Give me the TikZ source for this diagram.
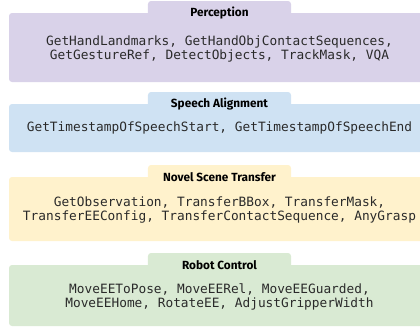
\documentclass[tikz,border=0pt]{standalone}
\usepackage{fontspec}
\setmainfont{Fira Sans}
\setmonofont{DejaVu Sans Mono}
\definecolor{percfill}{HTML}{D9D2E9}
\definecolor{speechfill}{HTML}{CFE2F3}
\definecolor{novelfill}{HTML}{FFF2CC}
\definecolor{robotfill}{HTML}{D9EAD3}
\definecolor{bodytext}{HTML}{2A2A2A}
\tikzset{
  panelbox/.style={draw=none, rounded corners=3bp, inner sep=0pt, outer sep=0pt},
  tabbox/.style={draw=none, rounded corners=3bp, inner sep=0pt, outer sep=0pt, minimum width=143bp, minimum height=18bp},
  titletext/.style={font=\fontsize{11.8bp}{13bp}\selectfont\bfseries, text=black, inner sep=0pt},
  bodytxt/.style={font=\fontsize{12.8bp}{14bp}\selectfont\ttfamily, text=bodytext, align=center, inner sep=0pt}
}
\begin{document}
\begin{tikzpicture}[x=1bp, y=-1bp]
\useasboundingbox (0,0) rectangle (420,327);
\clip (0,0) rectangle (420,327);
% Perception
\node[tabbox, fill=percfill, anchor=north] (perctab) at (219.5,1) {};
\node[panelbox, fill=percfill, anchor=north west, minimum width=422bp, minimum height=69bp] (percbox) at (9,13) {};
\node[titletext] (perctitle) at (219.5,13.5) {Perception};
\node[bodytxt] (percbody) at (219.5,49) {GetHandLandmarks, GetHandObjContactSequences,\\GetGestureRef, DetectObjects, TrackMask, VQA};
% Speech
\node[tabbox, fill=speechfill, anchor=north] (speechtab) at (219.5,92) {};
\node[panelbox, fill=speechfill, anchor=north west, minimum width=422bp, minimum height=48bp] (speechbox) at (9,104) {};
\node[titletext] (speechtitle) at (219.5,104.5) {Speech Alignment};
\node[bodytxt] (speechbody) at (219.5,128) {GetTimestampOfSpeechStart, GetTimestampOfSpeechEnd};
% Novel
\node[tabbox, fill=novelfill, anchor=north] (noveltab) at (219.5,165) {};
\node[panelbox, fill=novelfill, anchor=north west, minimum width=422bp, minimum height=64bp] (novelbox) at (9,177) {};
\node[titletext] (noveltitle) at (219.5,177.5) {Novel Scene Transfer};
\node[bodytxt] (novelbody) at (219.5,210) {GetObservation, TransferBBox, TransferMask,\\TransferEEConfig, TransferContactSequence, AnyGrasp};
% Robot
\node[tabbox, fill=robotfill, anchor=north] (robottab) at (219.5,253) {};
\node[panelbox, fill=robotfill, anchor=north west, minimum width=422bp, minimum height=61bp] (robotbox) at (9,265) {};
\node[titletext] (robottitle) at (219.5,265.5) {Robot Control};
\node[bodytxt] (robotbody) at (219.5,297) {MoveEEToPose, MoveEERel, MoveEEGuarded,\\MoveEEHome, RotateEE, AdjustGripperWidth};
\end{tikzpicture}
\end{document}
